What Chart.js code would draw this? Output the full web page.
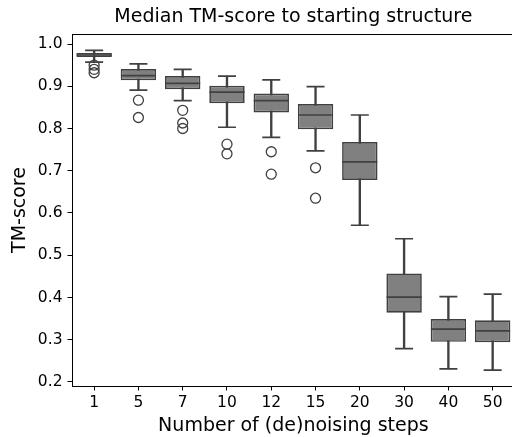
<!DOCTYPE html>
<html>
<head>
<meta charset="utf-8">
<script src="https://cdn.jsdelivr.net/npm/chart.js@4.4.0/dist/chart.umd.min.js"></script>
<style>
  html, body { margin: 0; padding: 0; background: #fff; overflow: hidden; }
  #wrap { width: 534px; height: 437px; position: relative; }
</style>
</head>
<body>
<div id="wrap"><canvas id="chart"></canvas></div>
<script>
// Box plot data
const steps = ['1', '5', '7', '10', '12', '15', '20', '30', '40', '50'];
const q1 = [0.969, 0.914, 0.893, 0.860, 0.838, 0.798, 0.678, 0.364, 0.295, 0.294];
const q3 = [0.979, 0.941, 0.924, 0.901, 0.883, 0.858, 0.768, 0.457, 0.349, 0.346];
const medians = [0.974, 0.925, 0.907, 0.886, 0.866, 0.832, 0.721, 0.401, 0.325, 0.321];
const whiskerLow = [0.957, 0.891, 0.866, 0.803, 0.779, 0.747, 0.571, 0.279, 0.231, 0.228];
const whiskerHigh = [0.985, 0.953, 0.940, 0.924, 0.915, 0.899, 0.832, 0.539, 0.402, 0.408];
const outliers = [
    ['1', 0.950], ['1', 0.940], ['1', 0.932],
    ['5', 0.867], ['5', 0.826],
    ['7', 0.843], ['7', 0.813], ['7', 0.800],
    ['10', 0.763], ['10', 0.740],
    ['12', 0.745], ['12', 0.692],
    ['15', 0.707], ['15', 0.635]
];
const yTicks = [0.2, 0.3, 0.4, 0.5, 0.6, 0.7, 0.8, 0.9, 1.0];

const FILL = '#808080';
const EDGE = '#404040';
const FONT = 'DejaVu Sans';

// matplotlib-style top spine
const topSpine = {
    id: 'topSpine',
    afterDraw(chart) {
        const { ctx, chartArea } = chart;
        ctx.save();
        ctx.strokeStyle = '#000';
        ctx.lineWidth = 1;
        ctx.beginPath();
        ctx.moveTo(chartArea.left, chartArea.top + 0.5);
        ctx.lineTo(chartArea.right, chartArea.top + 0.5);
        ctx.stroke();
        ctx.restore();
    }
};

new Chart(document.getElementById('chart'), {
    type: 'bar',
    data: {
        labels: steps,
        datasets: [
            {
                // whiskers
                data: steps.map((s, i) => [whiskerLow[i], whiskerHigh[i]]),
                backgroundColor: EDGE,
                borderWidth: 0,
                barThickness: 1.7,
                grouped: false,
                order: 3
            },
            {
                // boxes
                data: steps.map((s, i) => [q1[i], q3[i]]),
                backgroundColor: FILL,
                borderColor: EDGE,
                borderWidth: 1.7,
                borderSkipped: false,
                barPercentage: 0.8,
                categoryPercentage: 1.0,
                grouped: false,
                order: 2
            },
            {
                type: 'line',
                data: medians,
                showLine: false,
                pointStyle: 'line',
                pointRadius: 17.5,
                pointHoverRadius: 17.5,
                borderColor: EDGE,
                pointBorderWidth: 1.7,
                order: 1
            },
            {
                type: 'line',
                data: whiskerHigh,
                showLine: false,
                pointStyle: 'line',
                pointRadius: 9,
                pointHoverRadius: 9,
                borderColor: EDGE,
                pointBorderWidth: 1.7,
                order: 1
            },
            {
                type: 'line',
                data: whiskerLow,
                showLine: false,
                pointStyle: 'line',
                pointRadius: 9,
                pointHoverRadius: 9,
                borderColor: EDGE,
                pointBorderWidth: 1.7,
                order: 1
            },
            {
                type: 'line',
                data: outliers.map(o => ({ x: o[0], y: o[1] })),
                showLine: false,
                pointStyle: 'circle',
                pointRadius: 5,
                pointBackgroundColor: 'rgba(0,0,0,0)',
                pointBorderColor: EDGE,
                pointBorderWidth: 1.3,
                order: 1
            }
        ]
    },
    options: {
        responsive: true,
        maintainAspectRatio: false,
        animation: false,
        layout: { padding: { left: 0, right: 16, top: 0, bottom: 0 } },
        plugins: {
            legend: { display: false },
            tooltip: { enabled: false },
            title: {
                display: true,
                fullSize: false,
                text: 'Median TM-score to starting structure',
                color: '#000',
                font: { family: FONT, size: 19, weight: 'normal' },
                padding: { top: 6, bottom: 5.2 }
            }
        },
        scales: {
            x: {
                type: 'category',
                offset: true,
                grid: { display: true, drawOnChartArea: false, tickLength: 4.5, tickColor: '#000', tickWidth: 1, offset: false },
                border: { display: true, color: '#000', width: 1 },
                ticks: { color: '#000', font: { family: FONT, size: 15.5 }, padding: 3, maxRotation: 0, autoSkip: false },
                title: {
                    display: true,
                    text: 'Number of (de)noising steps',
                    color: '#000',
                    font: { family: FONT, size: 19 },
                    padding: { top: 0, bottom: 0 }
                },
                afterFit(scale) { scale.height = 51; }
            },
            y: {
                min: 0.1905,
                max: 1.0237,
                grid: { display: true, drawOnChartArea: false, tickLength: 4.5, tickColor: '#000', tickWidth: 1 },
                border: { display: true, color: '#000', width: 1 },
                ticks: {
                    color: '#000',
                    font: { family: FONT, size: 15.5 },
                    padding: 5,
                    callback: v => v.toFixed(1)
                },
                afterBuildTicks(scale) { scale.ticks = yTicks.map(v => ({ value: v })); },
                title: {
                    display: true,
                    text: 'TM-score',
                    color: '#000',
                    font: { family: FONT, size: 19 },
                    padding: { top: 9, bottom: 4 }
                },
                afterFit(scale) { scale.width = 72; }
            }
        }
    },
    plugins: [topSpine]
});
</script>
</body>
</html>
